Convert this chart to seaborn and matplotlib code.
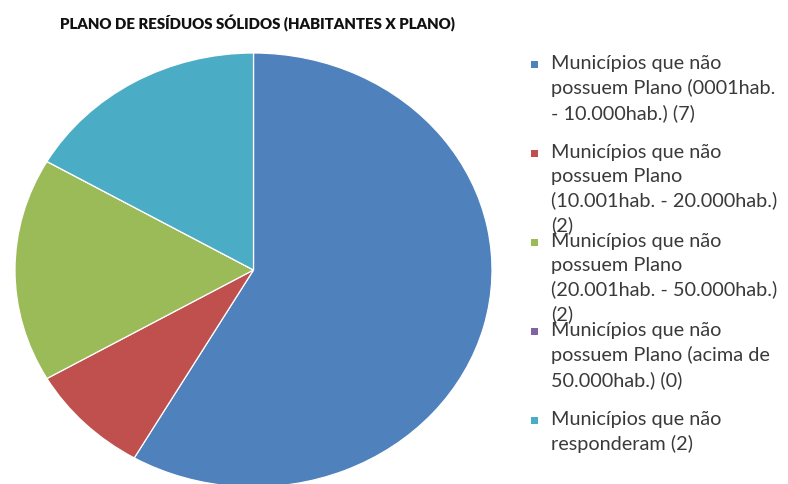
import matplotlib
matplotlib.use("Agg")
import matplotlib.pyplot as plt
import seaborn as sns

# dados
categorias = [
    "Municípios que não\npossuem Plano (0001hab.\n- 10.000hab.) (7)",
    "Municípios que não\npossuem Plano\n(10.001hab. - 20.000hab.)\n(2)",
    "Municípios que não\npossuem Plano\n(20.001hab. - 50.000hab.)\n(2)",
    "Municípios que não\npossuem Plano (acima de\n50.000hab.) (0)",
    "Municípios que não\nresponderam (2)",
]
valores = [7, 1, 2, 0, 2]
cores = ["#4F81BD", "#C0504D", "#9BBB59", "#8064A2", "#4BACC6"]
titulo = "PLANO DE RESÍDUOS SÓLIDOS (HABITANTES X PLANO)"

sns.set_theme(style="white")
plt.rcParams["font.family"] = ["Lato", "DejaVu Sans"]
paleta = sns.color_palette(cores)

fig = plt.figure(figsize=(7.88, 4.84), dpi=100)

# pizza (elíptica como no original)
ax = fig.add_axes([15 / 788, -3 / 484, 477 / 788, 434 / 484])
ax.pie(valores, colors=paleta, startangle=90, counterclock=False, radius=1,
       wedgeprops=dict(edgecolor="white", linewidth=0.9))
ax.set_aspect("auto")
ax.set_xlim(-1, 1)
ax.set_ylim(-1, 1)
ax.axis("off")

# título
fig.text(257 / 788, 1 - 23 / 484, titulo, ha="center", va="center",
         fontsize=10.8, fontweight="heavy", color="#111111")

# legenda feita à mão (entradas com espaçamento fixo, como no original)
x_marc = 534 / 788
x_txt = 551 / 788
y0 = 64
passo = 89
for i, (rotulo, cor) in enumerate(zip(categorias, paleta)):
    y = 1 - (y0 + i * passo) / 484
    fig.patches.append(plt.Rectangle((x_marc - 3.5 / 788, y - 3.5 / 484), 7 / 788, 7 / 484,
                                     transform=fig.transFigure, facecolor=cor,
                                     edgecolor="none"))
    fig.text(x_txt, y + 9 / 484, rotulo, ha="left", va="top", fontsize=14.3,
             color="#3a3a3a", linespacing=1.47)

fig.savefig("out.png", dpi=100)
